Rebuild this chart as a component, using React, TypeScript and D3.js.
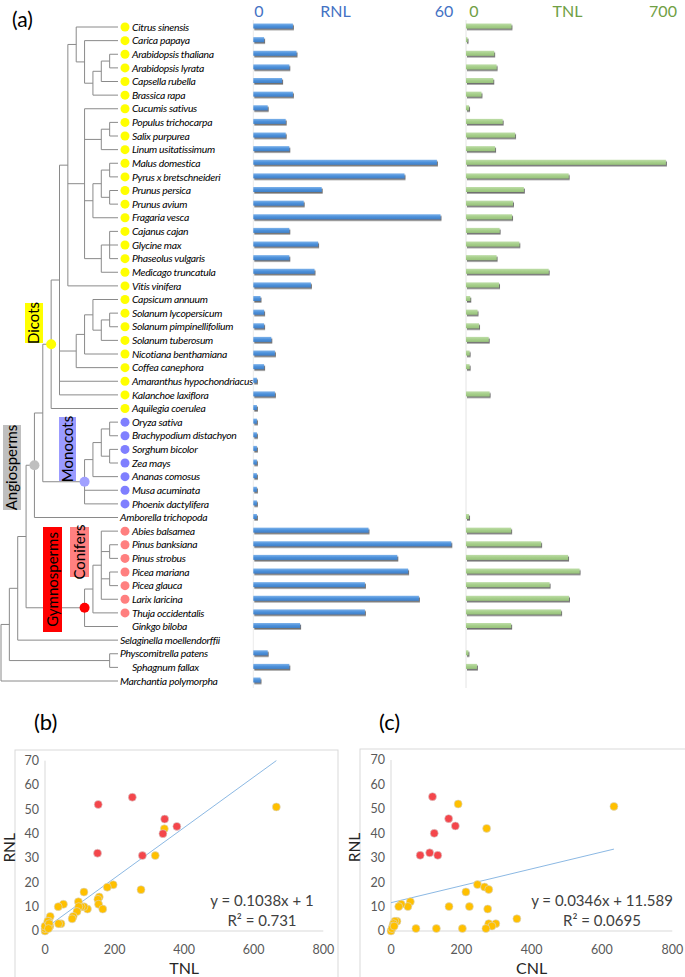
import * as d3 from 'd3';

// ---- panel (a) data ----
const species = [
  'Citrus sinensis', 'Carica papaya', 'Arabidopsis thaliana', 'Arabidopsis lyrata', 'Capsella rubella',
  'Brassica rapa', 'Cucumis sativus', 'Populus trichocarpa', 'Salix purpurea', 'Linum usitatissimum',
  'Malus domestica', 'Pyrus x bretschneideri', 'Prunus persica', 'Prunus avium', 'Fragaria vesca',
  'Cajanus cajan', 'Glycine max', 'Phaseolus vulgaris', 'Medicago truncatula', 'Vitis vinifera',
  'Capsicum annuum', 'Solanum lycopersicum', 'Solanum pimpinellifolium', 'Solanum tuberosum',
  'Nicotiana benthamiana', 'Coffea canephora', 'Amaranthus hypochondriacus', 'Kalanchoe laxiflora',
  'Aquilegia coerulea', 'Oryza sativa', 'Brachypodium distachyon', 'Sorghum bicolor', 'Zea mays',
  'Ananas comosus', 'Musa acuminata', 'Phoenix dactylifera', 'Amborella trichopoda', 'Abies balsamea',
  'Pinus banksiana', 'Pinus strobus', 'Picea mariana', 'Picea glauca', 'Larix laricina',
  'Thuja occidentalis', 'Ginkgo biloba', 'Selaginella moellendorffii', 'Physcomitrella patens',
  'Sphagnum fallax', 'Marchantia polymorpha',
];
const rnl = [11, 3, 12, 10, 8, 11, 4, 9, 9, 10, 51, 42, 19, 14, 52, 10, 18, 10, 17, 16, 2, 3, 3, 5, 6, 3, 1, 6, 1,
  1, 1, 1, 1, 1, 1, 1, 1, 32, 55, 40, 43, 31, 46, 31, 13, 0, 4, 10, 2];
const tnl = [150, 5, 93, 101, 90, 51, 10, 121, 162, 96, 660, 339, 191, 155, 152, 111, 176, 101, 273, 109, 14, 38, 43, 75,
  12, 12, 0, 78, 0, 0, 0, 0, 0, 0, 0, 0, 10, 149, 248, 337, 375, 276, 340, 314, 149, 0, 8, 36, 0];
// D dicot, M monocot, C conifer, G no dot (indented), - no dot
const leafGroup = 'DDDDDDDDDDDDDDDDDDDDDDDDDDDDDMMMMMMM-CCCCCCCG--G-G'.slice(0, 49);

type Node = { lv: number; dot?: string; ch: (Node | string)[] };
const n = (lv: number, ...ch: (Node | string)[]): Node => ({ lv, ch });
const nd = (lv: number, dot: string, ...ch: (Node | string)[]): Node => ({ lv, dot, ch });

const tree: Node = n(0,
  n(1,
    n(2,
      n(3,
        nd(4, 'angio',
          n(5,
            nd(6, 'dicot',
              n(7,
                n(8,
                  n(9, 'Citrus sinensis',
                    n(10, 'Carica papaya',
                      n(11, n(12, n(13, 'Arabidopsis thaliana', 'Arabidopsis lyrata'), 'Capsella rubella'), 'Brassica rapa'))),
                  n(10, 'Cucumis sativus',
                    n(12, n(13, 'Populus trichocarpa', 'Salix purpurea'), 'Linum usitatissimum'),
                    n(11, n(12, n(13, 'Malus domestica', 'Pyrus x bretschneideri'), n(13, 'Prunus persica', 'Prunus avium')), 'Fragaria vesca'),
                    n(12, n(13, 'Cajanus cajan', 'Glycine max', 'Phaseolus vulgaris'), 'Medicago truncatula')),
                  'Vitis vinifera'),
                n(9, n(10, n(11, 'Capsicum annuum', n(12, n(13, 'Solanum lycopersicum', 'Solanum pimpinellifolium'), 'Solanum tuberosum')), 'Nicotiana benthamiana'), 'Coffea canephora'),
                'Amaranthus hypochondriacus',
                'Kalanchoe laxiflora'),
              'Aquilegia coerulea'),
            nd(10, 'monocot',
              n(11, n(12, n(13, 'Oryza sativa', 'Brachypodium distachyon'), n(13, 'Sorghum bicolor', 'Zea mays')), 'Ananas comosus'),
              'Musa acuminata', 'Phoenix dactylifera')),
          'Amborella trichopoda'),
        nd(10, 'gymno',
          n(11, n(12, 'Abies balsamea', n(13, 'Pinus banksiana', 'Pinus strobus'), n(13, 'Picea mariana', 'Picea glauca'), 'Larix laricina'), 'Thuja occidentalis'),
          'Ginkgo biloba')),
      'Selaginella moellendorffii'),
    n(13, 'Physcomitrella patens', 'Sphagnum fallax')),
  'Marchantia polymorpha');

const clades = ['Dicots', 'Monocots', 'Angiosperms', 'Gymnosperms', 'Conifers'];
const cladeFill = ['#FFFF00', '#9B9BFF', '#BFBFBF', '#FF0000', '#FF8080'];
// label boxes: [x0, y0, x1, y1]
const cladeBox = [[25, 303, 43, 343], [59, 417, 76, 481], [3, 425, 21, 510], [43, 527, 62, 632], [70, 527, 89, 577]];

// ---- panels (b) and (c) ----
const bYellowTnl = [665, 343, 317, 276, 196, 179, 156, 152, 154, 166, 112, 122, 112, 104, 96, 97, 92, 81, 78, 53, 38, 46, 39, 15, 11, 10, 14, 5, 2, 0, 0, 0, 8, 12, 10];
const bYellowRnl = [51, 42, 31, 17, 19, 18, 14, 13, 11, 9, 16, 9, 10, 10, 12, 10, 8, 6, 5, 11, 10, 3, 3, 6, 4, 3, 2, 2, 1, 0, 1, 2, 4, 3, 1];
const bRedTnl = [153, 251, 344, 379, 339, 151, 280];
const bRedRnl = [52, 55, 46, 43, 40, 32, 31];
const cYellowCnl = [634, 191, 272, 246, 266, 278, 213, 165, 223, 275, 55, 48, 29, 22, 358, 298, 278, 287, 270, 203, 129, 71, 17, 11, 7, 5, 0, 3, 9];
const cYellowRnl = [51, 52, 42, 19, 18, 17, 16, 10, 10, 9, 12, 10, 11, 10, 5, 3, 3, 2, 1, 1, 1, 1, 4, 4, 3, 2, 0, 1, 2];
const cRedCnl = [118, 164, 183, 123, 110, 83, 133];
const cRedRnl = [55, 46, 43, 40, 32, 31, 31];
const bFit = { slope: 0.1038, intercept: 1, eq: 'y = 0.1038x + 1', r2: 'R² = 0.731' };
const cFit = { slope: 0.0346, intercept: 11.589, eq: 'y = 0.0346x + 11.589', r2: 'R² = 0.0695' };

const FONT = 'Lato, "Open Sans", sans-serif';

function Tree() {
  const row = d3.scalePoint<string>().domain(species).range([27, 681]);
  const xLv = d3.scaleLinear().domain([0, 14]).range([1, 118]);
  const lines: JSX.Element[] = [];
  const dots: JSX.Element[] = [];
  const dotColor: Record<string, string> = { dicot: '#FFFF00', monocot: '#A0A0FF', angio: '#BFBFBF', gymno: '#FF0000' };
  let k = 0;
  const walk = (node: Node | string): number => {
    if (typeof node === 'string') return row(node)!;
    const x = xLv(node.lv);
    const ys = node.ch.map(walk);
    node.ch.forEach((c, i) => {
      const cx = typeof c === 'string' ? xLv(14) : xLv(c.lv);
      lines.push(<line key={k++} x1={x} x2={cx} y1={ys[i]} y2={ys[i]} />);
    });
    lines.push(<line key={k++} x1={x} x2={x} y1={ys[0]} y2={ys[ys.length - 1]} />);
    const y = (ys[0] + ys[ys.length - 1]) / 2;
    if (node.dot) dots.push(<circle key={k++} cx={x} cy={y} r={5} fill={dotColor[node.dot]} />);
    return y;
  };
  walk(tree);
  const leafColor: Record<string, string> = { D: '#FFFF00', M: '#7F7FFF', C: '#FF7F7F' };
  return (
    <g>
      <g stroke="#8a8a8a" strokeWidth={1}>{lines}</g>
      {dots}
      {species.map((s, i) => {
        const g = leafGroup[i];
        const tx = g === '-' ? 120 : 132;
        return (
          <g key={s}>
            {leafColor[g] && <circle cx={125} cy={row(s)} r={4.5} fill={leafColor[g]} />}
            <text x={tx} y={row(s)} dy="0.35em" fontSize={10.4} letterSpacing={-0.3} fontStyle="italic" fontFamily={FONT} fill="#000">{s}</text>
          </g>
        );
      })}
      {clades.map((c, i) => {
        const [x0, y0, x1, y1] = cladeBox[i];
        const cx = (x0 + x1) / 2;
        const cy = (y0 + y1) / 2;
        return (
          <g key={c}>
            <rect x={x0} y={y0} width={x1 - x0} height={y1 - y0} fill={cladeFill[i]} />
            <text transform={`translate(${cx},${cy}) rotate(-90)`} textAnchor="middle" dy="0.35em" fontSize={15} fontFamily={FONT} fill="#000">{c}</text>
          </g>
        );
      })}
    </g>
  );
}

function Bars() {
  const row = d3.scalePoint<string>().domain(species).range([27, 681]);
  const xr = d3.scaleLinear().domain([0, 60]).range([253.3, 469.3]);
  const xt = d3.scaleLinear().domain([0, 700]).range([466, 678]);
  const hr = d3.scaleLinear().domain([0, 60]).range([259, 444]);
  const ht = d3.scaleLinear().domain([0, 700]).range([474, 663]);
  const bh = 5;
  return (
    <g>
      <defs>
        <linearGradient id="gb" x1="0" x2="0" y1="0" y2="1">
          <stop offset="0" stopColor="#7DB2EA" />
          <stop offset="0.5" stopColor="#4D91DB" />
          <stop offset="1" stopColor="#3F80C8" />
        </linearGradient>
        <linearGradient id="gg" x1="0" x2="0" y1="0" y2="1">
          <stop offset="0" stopColor="#BEDDA8" />
          <stop offset="0.5" stopColor="#A6CF8A" />
          <stop offset="1" stopColor="#98C27C" />
        </linearGradient>
        <filter id="sh" x="-5%" y="-50%" width="115%" height="250%">
          <feDropShadow dx="1" dy="1.6" stdDeviation="0.6" floodColor="#404040" floodOpacity="0.75" />
        </filter>
      </defs>
      <line x1={xr(0)} x2={xr(0)} y1={20} y2={688} stroke="#ececec" />
      <line x1={xt(0)} x2={xt(0)} y1={20} y2={688} stroke="#e4e4e4" />
      {species.map((s, i) => (
        <g key={s} filter="url(#sh)">
          {rnl[i] > 0 && <rect x={xr(0)} y={row(s)! - 3.5} width={xr(rnl[i]) - xr(0)} height={bh} fill="url(#gb)" />}
          {tnl[i] > 0 && <rect x={xt(0)} y={row(s)! - 3.5} width={xt(tnl[i]) - xt(0)} height={bh} fill="url(#gg)" />}
        </g>
      ))}
      <g fontFamily={FONT} fontSize={16} textAnchor="middle">
        <text x={hr(0)} y={17} fill="#4472C4">0</text>
        <text x={hr(30) - 16} y={17} fill="#4472C4">RNL</text>
        <text x={hr(60)} y={17} fill="#4472C4">60</text>
        <text x={ht(0)} y={17} fill="#70A044">0</text>
        <text x={ht(350) - 1} y={17} fill="#70A044">TNL</text>
        <text x={ht(700)} y={17} fill="#70A044">700</text>
      </g>
    </g>
  );
}

function Scatter(props: {
  frame: [number, number, number, number]; x0: number; x1: number; yTop: number; yBot: number;
  yx: number[]; yy: number[]; rx: number[]; ry: number[]; fit: typeof bFit; xLabel: string; tag: string;
  eqX: number;
}) {
  const { frame, yx, yy, rx, ry, fit } = props;
  const x = d3.scaleLinear().domain([0, 800]).range([props.x0, props.x1]);
  const y = d3.scaleLinear().domain([0, 70]).range([props.yBot, props.yTop]);
  const xMax = d3.max([...yx, ...rx])!;
  const fitLine = d3.line<number>().x((v) => x(v)).y((v) => y(fit.slope * v + fit.intercept));
  return (
    <g fontFamily={FONT}>
      <text x={frame[0] + 19} y={730} fontSize={22} fill="#000">{props.tag}</text>
      <rect x={frame[0]} y={frame[1]} width={frame[2] - frame[0]} height={frame[3] - frame[1]} fill="none" stroke="#d9d9d9" />
      <line x1={x(0)} x2={x(0)} y1={y(70)} y2={y(0)} stroke="#d9d9d9" />
      <line x1={x(0)} x2={x(800)} y1={y(0)} y2={y(0)} stroke="#d9d9d9" />
      {y.ticks(7).map((t) => (
        <text key={t} x={x(0) - 6} y={y(t)} dy="0.35em" textAnchor="end" fontSize={12.5} fill="#595959">{t}</text>
      ))}
      {x.ticks(4).map((t) => (
        <text key={t} x={x(t)} y={y(0) + 19} dy="0.35em" textAnchor="middle" fontSize={12.5} fill="#595959">{t}</text>
      ))}
      <path d={fitLine([0, xMax])!} stroke="#7EB0E0" strokeWidth={0.9} fill="none" />
      {yx.map((v, i) => (
        <circle key={'y' + i} cx={x(v)} cy={y(yy[i])} r={4} fill="#FFC000" stroke="#D6D6D6" strokeWidth={0.6} />
      ))}
      {rx.map((v, i) => (
        <circle key={'r' + i} cx={x(v)} cy={y(ry[i])} r={4} fill="#F4464B" stroke="#D6D6D6" strokeWidth={0.6} />
      ))}
      <text x={props.eqX} y={y(12.5)} dy="0.35em" textAnchor="middle" fontSize={15} fill="#404040">{fit.eq}</text>
      <text x={props.eqX} y={y(4.2)} dy="0.35em" textAnchor="middle" fontSize={15} fill="#404040">{fit.r2}</text>
      <text transform={`translate(${frame[0] - 5},${(y(0) + y(70)) / 2 + 2}) rotate(-90)`} textAnchor="middle" dy="0.35em" fontSize={15.5} fill="#262626">RNL</text>
      <text x={(x(0) + x(800)) / 2} y={968} dy="0.35em" textAnchor="middle" fontSize={16} fill="#262626">{props.xLabel}</text>
    </g>
  );
}

export default function App() {
  return (
    <svg width={685} height={977} style={{ position: 'absolute', left: 0, top: 0, background: '#fff' }}>
      <rect width={685} height={977} fill="#fff" />
      <text x={12} y={27} fontSize={21} fontFamily={FONT} fill="#000">(a)</text>
      <Tree />
      <Bars />
      <Scatter frame={[15, 750, 338, 990]} x0={45} x1={323.3} yTop={760.7} yBot={931}
        yx={bYellowTnl} yy={bYellowRnl} rx={bRedTnl} ry={bRedRnl} fit={bFit} xLabel="TNL" tag="(b)" eqX={262} />
      <Scatter frame={[360, 749, 700, 990]} x0={391} x1={672.3} yTop={760} yBot={931}
        yx={cYellowCnl} yy={cYellowRnl} rx={cRedCnl} ry={cRedRnl} fit={cFit} xLabel="CNL" tag="(c)" eqX={602} />
    </svg>
  );
}
